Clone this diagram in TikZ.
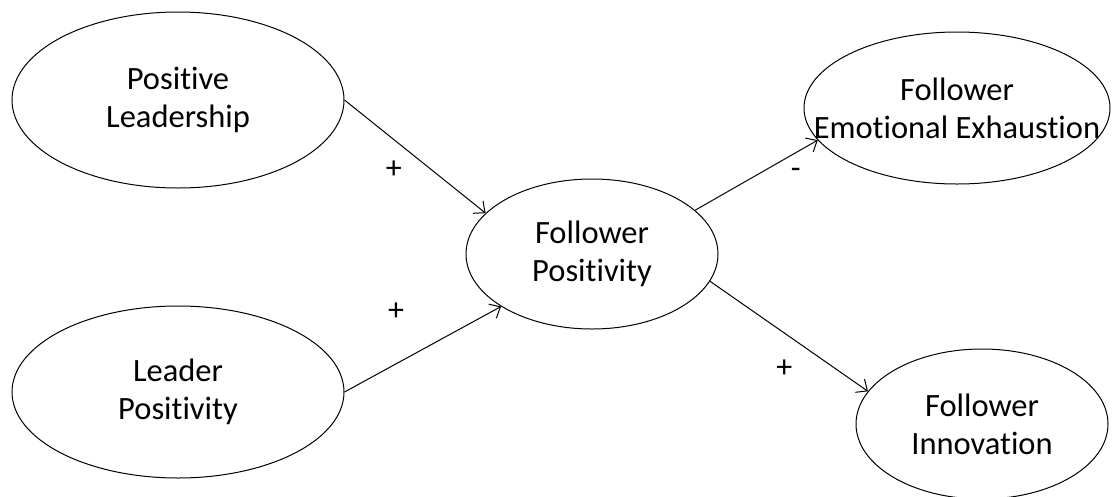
\documentclass[tikz,border=0pt]{standalone}
\usepackage{fontspec}
\setmainfont{Carlito}[Ligatures=NoCommon]
\usetikzlibrary{shapes,arrows.meta,positioning}
\tikzset{construct/.style={ellipse, draw, fill=white, align=center, inner sep=-40pt,
 font=\fontsize{32.5}{38}\selectfont}}
\tikzset{sign/.style={font=\fontsize{32}{36}\selectfont, inner sep=0pt}}
\tikzset{line/.style={draw, -{Straight Barb[length=9pt,width=16pt]}}}

\begin{document}
\begin{tikzpicture}[x=1pt, y=-1pt, line width=1pt]
        \useasboundingbox (0,0) rectangle (1117,496);
        \node[construct, minimum width=332pt, minimum height=176pt] (posl) at (178,100) {Positive\\Leadership};
        \node[construct, minimum width=332pt, minimum height=172pt] (ldrp) at (178,392) {Leader\\Positivity};
        \node[construct, minimum width=252pt, minimum height=150pt] (folp) at (592,254) {Follower\\Positivity};
        \node[construct, minimum width=306pt, minimum height=152pt] (exh) at (957,108) {Follower\\Emotional Exhaustion};
        \node[construct, minimum width=252pt, minimum height=150pt] (inno) at (982,424) {Follower\\Innovation};

        \path[line] (posl.east) -- (folp.159) node[sign, pos=.35, yshift=-30pt] {+};
        \path[line] (ldrp.east) -- (folp.210) node[sign, pos=.33, yshift=52pt] {+};
        \path[line] (folp.23)   -- (exh.193)  node[sign, pos=.82, yshift=-21pt] {-};
        \path[line] (folp.347)  -- (inno.164) node[sign, pos=.47, yshift=-36pt] {+};
      \end{tikzpicture}
\end{document}
